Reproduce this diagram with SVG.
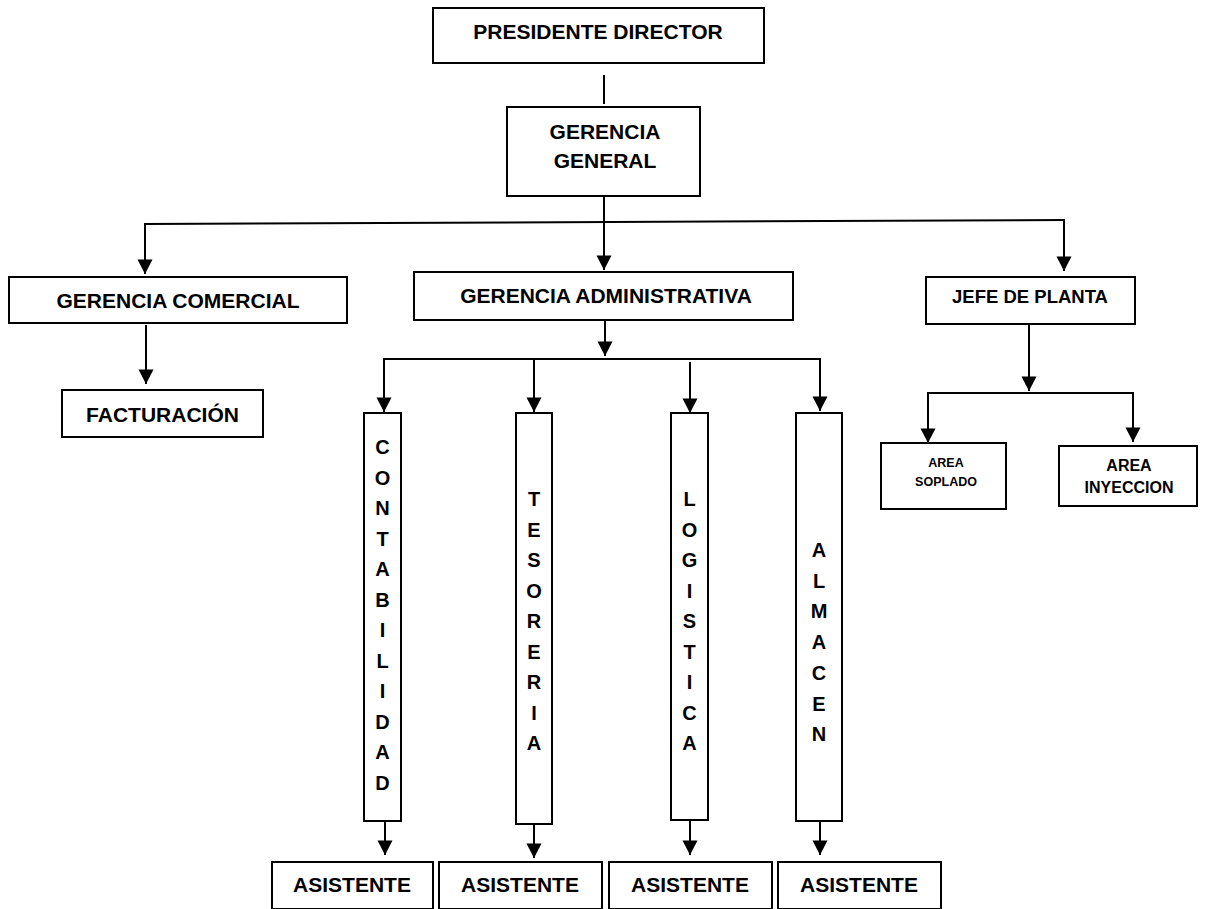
<svg xmlns="http://www.w3.org/2000/svg" width="1205" height="909" viewBox="0 0 1205 909">
<style>
.box{fill:#fff;stroke:#000;stroke-width:2}
.t{font-family:"Liberation Sans",Arial,sans-serif;font-weight:bold;font-size:21px;fill:#000;text-anchor:middle}
.v{font-family:"Liberation Sans",Arial,sans-serif;font-weight:bold;font-size:20px;fill:#000;text-anchor:middle}
.c{fill:none;stroke:#000;stroke-width:2}
.a{fill:none;stroke:#000;stroke-width:2;marker-end:url(#ah)}
</style>
<defs>
<marker id="ah" markerUnits="userSpaceOnUse" markerWidth="16" markerHeight="16" viewBox="0 0 16 16" refX="15" refY="8" orient="auto">
<path d="M0.5,0.5 L15,8 L0.5,15.5 Z" fill="#000"/>
</marker>
</defs>
<rect width="1205" height="909" fill="#fff"/>
<g id="connectors">
<line class="c" x1="604" y1="75" x2="604" y2="104"/>
<line class="a" x1="604" y1="196" x2="604" y2="270"/>
<line class="c" x1="144" y1="224" x2="1065" y2="220"/>
<line class="a" x1="145" y1="224" x2="145" y2="274"/>
<line class="a" x1="1064" y1="220" x2="1064" y2="271"/>
<line class="a" x1="146" y1="325" x2="146" y2="384"/>
<line class="a" x1="605" y1="320" x2="605" y2="356"/>
<line class="c" x1="383" y1="359" x2="821" y2="359"/>
<line class="a" x1="384" y1="359" x2="384" y2="412"/>
<line class="a" x1="534" y1="359" x2="534" y2="412"/>
<line class="a" x1="690" y1="362" x2="690" y2="413"/>
<line class="a" x1="820" y1="359" x2="820" y2="411"/>
<line class="a" x1="1029" y1="324" x2="1029" y2="391"/>
<line class="c" x1="927" y1="393" x2="1134" y2="393"/>
<line class="a" x1="928" y1="393" x2="928" y2="443"/>
<line class="a" x1="1133" y1="393" x2="1133" y2="442"/>
<line class="a" x1="385" y1="821" x2="385" y2="855"/>
<line class="a" x1="534" y1="824" x2="534" y2="858"/>
<line class="a" x1="690" y1="820" x2="690" y2="855"/>
<line class="a" x1="820" y1="821" x2="820" y2="855"/>
</g>
<g id="presidente">
<rect class="box" x="433" y="8" width="331" height="55"/>
<text class="t" x="598" y="39">PRESIDENTE DIRECTOR</text>
</g>
<g id="gerencia-general">
<rect class="box" x="507" y="107" width="193" height="89"/>
<text class="t" x="605" y="139">GERENCIA</text>
<text class="t" x="605" y="168">GENERAL</text>
</g>
<g id="gerencia-comercial">
<rect class="box" x="9" y="277" width="338" height="46"/>
<text class="t" x="178" y="308">GERENCIA COMERCIAL</text>
</g>
<g id="facturacion">
<rect class="box" x="62" y="390" width="201" height="47"/>
<text class="t" x="162.5" y="422">FACTURACIÓN</text>
</g>
<g id="gerencia-administrativa">
<rect class="box" x="414" y="272" width="379" height="48"/>
<text class="t" x="606" y="303">GERENCIA ADMINISTRATIVA</text>
</g>
<g id="jefe-planta">
<rect class="box" x="926" y="277" width="209" height="47"/>
<text class="t" x="1030" y="303" style="font-size:18.5px">JEFE DE PLANTA</text>
</g>
<g id="area-soplado">
<rect class="box" x="881" y="443" width="125" height="66"/>
<text class="t" x="946" y="467" style="font-size:12.5px">AREA</text>
<text class="t" x="946" y="486" style="font-size:12.5px">SOPLADO</text>
</g>
<g id="area-inyeccion">
<rect class="box" x="1059" y="446" width="138" height="60"/>
<text class="t" x="1129" y="471" style="font-size:16px">AREA</text>
<text class="t" x="1129" y="493" style="font-size:16px">INYECCION</text>
</g>
<g id="contabilidad">
<rect class="box" x="364" y="413" width="37" height="408"/>
<text class="v" x="382.5" y="454">C</text>
<text class="v" x="382.5" y="484.5">O</text>
<text class="v" x="382.5" y="515">N</text>
<text class="v" x="382.5" y="545.5">T</text>
<text class="v" x="382.5" y="576">A</text>
<text class="v" x="382.5" y="606.5">B</text>
<text class="v" x="382.5" y="637">I</text>
<text class="v" x="382.5" y="667.5">L</text>
<text class="v" x="382.5" y="698">I</text>
<text class="v" x="382.5" y="728.5">D</text>
<text class="v" x="382.5" y="759">A</text>
<text class="v" x="382.5" y="789.5">D</text>
</g>
<g id="tesoreria">
<rect class="box" x="516" y="413" width="36" height="411"/>
<text class="v" x="534" y="506">T</text>
<text class="v" x="534" y="536.5">E</text>
<text class="v" x="534" y="567">S</text>
<text class="v" x="534" y="597.5">O</text>
<text class="v" x="534" y="628">R</text>
<text class="v" x="534" y="658.5">E</text>
<text class="v" x="534" y="689">R</text>
<text class="v" x="534" y="719.5">I</text>
<text class="v" x="534" y="750">A</text>
</g>
<g id="logistica">
<rect class="box" x="671" y="413" width="37" height="407"/>
<text class="v" x="689.5" y="506">L</text>
<text class="v" x="689.5" y="536.5">O</text>
<text class="v" x="689.5" y="567">G</text>
<text class="v" x="689.5" y="597.5">I</text>
<text class="v" x="689.5" y="628">S</text>
<text class="v" x="689.5" y="658.5">T</text>
<text class="v" x="689.5" y="689">I</text>
<text class="v" x="689.5" y="719.5">C</text>
<text class="v" x="689.5" y="750">A</text>
</g>
<g id="almacen">
<rect class="box" x="796" y="413" width="46" height="408"/>
<text class="v" x="819" y="557">A</text>
<text class="v" x="819" y="587.7">L</text>
<text class="v" x="819" y="618.4">M</text>
<text class="v" x="819" y="649.1">A</text>
<text class="v" x="819" y="679.8">C</text>
<text class="v" x="819" y="710.5">E</text>
<text class="v" x="819" y="741.2">N</text>
</g>
<g id="asistente-1">
<rect class="box" x="272" y="862" width="161" height="47"/>
<text class="t" x="352" y="892">ASISTENTE</text>
</g>
<g id="asistente-2">
<rect class="box" x="439" y="862" width="163" height="47"/>
<text class="t" x="520" y="892">ASISTENTE</text>
</g>
<g id="asistente-3">
<rect class="box" x="609" y="862" width="163" height="47"/>
<text class="t" x="690" y="892">ASISTENTE</text>
</g>
<g id="asistente-4">
<rect class="box" x="778" y="862" width="163" height="47"/>
<text class="t" x="859" y="892">ASISTENTE</text>
</g>
</svg>
